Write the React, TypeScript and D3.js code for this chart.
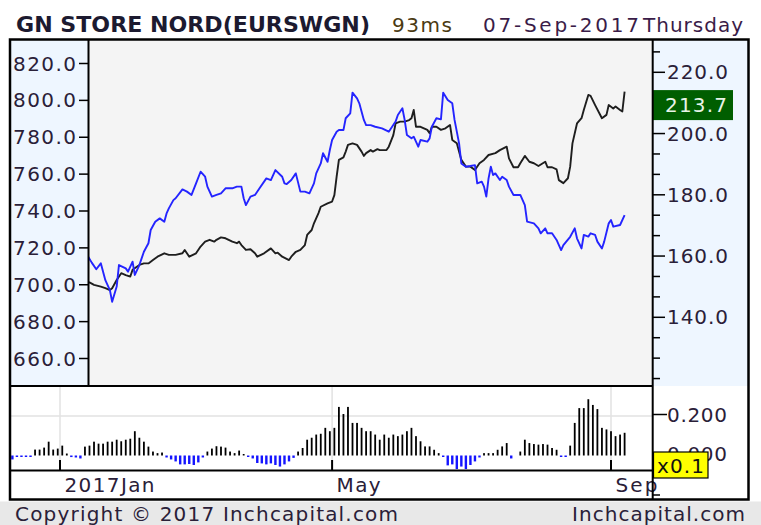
import React from "react";
import * as d3 from "d3";

const blueDates = ["2017-01-13","2017-01-15","2017-01-17","2017-01-19","2017-01-21","2017-01-23","2017-01-24","2017-01-26","2017-01-27","2017-01-30","2017-01-31","2017-02-02","2017-02-03","2017-02-05","2017-02-06","2017-02-07","2017-02-09","2017-02-10","2017-02-12","2017-02-14","2017-02-16","2017-02-17","2017-02-18","2017-02-20","2017-02-21","2017-02-24","2017-02-26","2017-02-28","2017-03-02","2017-03-04","2017-03-06","2017-03-07","2017-03-09","2017-03-11","2017-03-13","2017-03-15","2017-03-18","2017-03-20","2017-03-22","2017-03-23","2017-03-24","2017-03-26","2017-03-28","2017-03-30","2017-04-02","2017-04-04","2017-04-06","2017-04-09","2017-04-10","2017-04-11","2017-04-13","2017-04-15","2017-04-17","2017-04-19","2017-04-21","2017-04-23","2017-04-24","2017-04-26","2017-04-27","2017-04-29","2017-04-30","2017-05-01","2017-05-03","2017-05-04","2017-05-06","2017-05-07","2017-05-09","2017-05-10","2017-05-12","2017-05-13","2017-05-15","2017-05-16","2017-05-18","2017-05-20","2017-05-23","2017-05-26","2017-05-29","2017-05-30","2017-06-01","2017-06-02","2017-06-03","2017-06-05","2017-06-06","2017-06-08","2017-06-09","2017-06-12","2017-06-13","2017-06-14","2017-06-16","2017-06-18","2017-06-19","2017-06-21","2017-06-23","2017-06-24","2017-06-26","2017-06-27","2017-06-29","2017-07-01","2017-07-03","2017-07-04","2017-07-06","2017-07-07","2017-07-08","2017-07-09","2017-07-10","2017-07-11","2017-07-12","2017-07-14","2017-07-15","2017-07-17","2017-07-18","2017-07-20","2017-07-23","2017-07-25","2017-07-26","2017-07-29","2017-07-31","2017-08-01","2017-08-03","2017-08-04","2017-08-06","2017-08-08","2017-08-10","2017-08-11","2017-08-14","2017-08-16","2017-08-17","2017-08-19","2017-08-20","2017-08-22","2017-08-23","2017-08-25","2017-08-26","2017-08-28","2017-08-29","2017-08-31","2017-09-01","2017-09-02","2017-09-05","2017-09-07"];
const blueValues = [716.1,712.0,708.4,711.6,702.5,697.1,690.8,699.0,710.7,708.9,707.1,712.5,705.3,710.7,714.3,717.9,722.5,729.7,734.2,736.0,734.2,738.7,741.4,745.9,746.9,751.7,750.5,748.7,755.0,761.3,758.6,753.2,747.8,748.7,749.6,752.3,752.3,753.2,753.2,746.9,743.2,747.8,748.7,752.3,757.7,756.8,762.2,758.6,755.0,754.6,756.8,760.4,750.5,750.5,749.6,755.0,760.4,765.8,771.3,766.7,773.1,778.5,783.0,783.9,783.9,790.3,793.0,804.2,801.1,798.4,789.4,786.6,786.6,785.7,784.8,783.0,788.5,792.1,795.7,789.4,781.2,779.4,780.3,774.9,778.5,777.6,779.4,785.7,790.3,789.7,804.2,800.2,798.4,789.4,776.7,765.8,764.0,764.4,764.9,755.0,755.9,753.2,747.8,757.7,764.0,759.5,760.4,756.8,758.6,756.8,753.2,748.7,748.7,743.2,734.2,733.3,730.6,727.9,730.6,727.9,727.9,724.3,718.8,721.5,726.0,730.6,725.2,719.7,727.0,726.1,727.9,727.0,723.4,719.7,723.4,733.3,735.1,731.5,732.4,737.8];

const blackDates = ["2017-01-12","2017-01-14","2017-01-16","2017-01-19","2017-01-21","2017-01-23","2017-01-24","2017-01-26","2017-01-28","2017-01-30","2017-02-01","2017-02-02","2017-02-05","2017-02-07","2017-02-09","2017-02-11","2017-02-13","2017-02-16","2017-02-18","2017-02-21","2017-02-24","2017-02-25","2017-02-27","2017-03-02","2017-03-04","2017-03-06","2017-03-08","2017-03-10","2017-03-11","2017-03-13","2017-03-15","2017-03-18","2017-03-20","2017-03-21","2017-03-22","2017-03-24","2017-03-26","2017-03-28","2017-03-29","2017-04-01","2017-04-04","2017-04-06","2017-04-07","2017-04-09","2017-04-12","2017-04-13","2017-04-15","2017-04-17","2017-04-19","2017-04-20","2017-04-22","2017-04-23","2017-04-25","2017-04-26","2017-04-29","2017-05-01","2017-05-02","2017-05-03","2017-05-04","2017-05-06","2017-05-07","2017-05-08","2017-05-10","2017-05-12","2017-05-14","2017-05-15","2017-05-16","2017-05-18","2017-05-19","2017-05-21","2017-05-22","2017-05-25","2017-05-26","2017-05-28","2017-05-29","2017-05-31","2017-06-02","2017-06-04","2017-06-05","2017-06-06","2017-06-07","2017-06-09","2017-06-12","2017-06-13","2017-06-14","2017-06-16","2017-06-18","2017-06-20","2017-06-22","2017-06-23","2017-06-25","2017-06-27","2017-06-29","2017-07-01","2017-07-03","2017-07-05","2017-07-07","2017-07-09","2017-07-12","2017-07-14","2017-07-17","2017-07-18","2017-07-20","2017-07-22","2017-07-23","2017-07-25","2017-07-27","2017-07-29","2017-07-31","2017-08-03","2017-08-04","2017-08-06","2017-08-08","2017-08-09","2017-08-11","2017-08-13","2017-08-14","2017-08-15","2017-08-17","2017-08-19","2017-08-20","2017-08-22","2017-08-23","2017-08-25","2017-08-28","2017-08-30","2017-08-31","2017-09-02","2017-09-03","2017-09-05","2017-09-06","2017-09-07"];
const blackValues = [151.1,151.4,150.6,150.0,149.5,148.9,149.5,152.2,154.4,153.8,153.3,155.5,157.1,157.6,157.6,158.7,159.8,160.9,160.4,160.4,160.9,162.0,159.8,160.9,163.1,164.7,165.3,164.7,165.3,166.1,165.8,164.7,164.2,164.7,163.6,162.0,162.2,160.9,159.8,160.9,162.5,160.9,161.1,159.8,158.7,159.8,161.4,162.0,163.6,166.9,168.5,170.7,174.0,176.1,177.2,177.8,179.9,185.9,191.4,192.2,194.1,196.3,196.8,196.3,194.1,192.7,193.6,194.6,194.1,194.9,194.6,194.6,195.7,199.5,203.3,203.9,203.9,204.4,205.0,207.7,202.2,202.2,201.2,200.1,202.2,202.2,201.2,201.7,202.8,197.9,196.8,191.4,189.2,189.2,188.1,190.3,191.4,193.0,193.6,194.6,195.7,191.9,189.0,189.0,190.3,192.7,190.8,190.3,189.4,190.8,189.0,189.0,188.3,184.8,183.8,185.4,189.2,196.8,203.3,205.0,207.7,212.6,212.3,209.3,205.0,206.1,209.3,208.2,208.8,207.7,207.2,213.7];

const oscStart = "2016-12-11";
const oscValues = [-0.02,-0.005,-0.005,-0.005,-0.004,0.03,0.03,0.04,0.07,0.03,0.035,0.05,0.01,-0.008,-0.01,-0.015,0.045,0.05,0.07,0.06,0.06,0.07,0.07,0.08,0.072,0.08,0.085,0.123,0.09,0.07,0.045,0.02,0.012,0.015,-0.01,-0.02,-0.03,-0.045,-0.045,-0.043,-0.048,-0.035,-0.01,0.02,0.035,0.047,0.045,0.04,0.02,0.012,0.025,0.002,-0.005,-0.015,-0.038,-0.04,-0.045,-0.04,-0.048,-0.056,-0.045,-0.03,-0.012,0.02,0.038,0.08,0.09,0.106,0.11,0.14,0.123,0.14,0.246,0.21,0.246,0.165,0.165,0.14,0.123,0.123,0.106,0.08,0.106,0.09,0.106,0.098,0.106,0.123,0.14,0.098,0.072,0.046,0.046,0.029,0.012,-0.005,-0.05,-0.045,-0.073,-0.056,-0.073,-0.048,-0.03,-0.01,0.012,0.012,0.012,0.029,0.046,0.063,-0.015,0.0,0.02,0.08,0.063,0.058,0.055,0.058,0.055,0.038,0.029,-0.005,-0.005,0.05,0.165,0.24,0.24,0.285,0.256,0.235,0.14,0.132,0.123,0.098,0.106,0.115];

const leftTicks = [820, 800, 780, 760, 740, 720, 700, 680, 660];
const rightTicks = [220, 200, 180, 160, 140];
const oscTicks = [0.2, 0.0];
const monthTicks = [
  { date: "2017-01-01", label: "2017Jan", len: 90 },
  { date: "2017-05-01", label: "May", len: 44 },
  { date: "2017-09-01", label: "Sep", len: 42 },
];
const lastValueLabel = "213.7";
const title = "GN STORE NORD(EURSWGN)";

const FONT = "'DejaVu Sans', Verdana, sans-serif";
const TXT = "#2a2038";

export default function App() {
  const parse = d3.utcParse("%Y-%m-%d");
  const x = d3
    .scaleUtc()
    .domain([parse("2017-01-01")!, parse("2017-09-01")!])
    .range([60, 611]);
  const yL = d3.scaleLinear().domain([660, 820]).range([358.5, 63.5]);
  const yR = d3.scaleLinear().domain([140, 220]).range([317.3, 72.3]);
  const yO = d3.scaleLinear().domain([0, 0.2]).range([455.5, 416]);

  const blue = blueDates.map((d, i) => ({ d: parse(d)!, v: blueValues[i] }));
  const black = blackDates.map((d, i) => ({ d: parse(d)!, v: blackValues[i] }));
  const start = parse(oscStart)!;
  const osc = oscValues.map((v, i) => ({ d: d3.utcDay.offset(start, 2 * i), v }));

  const blueLine = d3.line<{ d: Date; v: number }>().x((p) => x(p.d)).y((p) => yL(p.v));
  const blackLine = d3.line<{ d: Date; v: number }>().x((p) => x(p.d)).y((p) => yR(p.v));

  const minorRight = d3.range(0, 17).map((k) => 120 + (k * 20) / 3);
  const lastBlack = blackValues[blackValues.length - 1];

  return (
    <svg
      width={761}
      height={525}
      style={{ position: "absolute", left: 0, top: 0, background: "#fff" }}
      fontFamily={FONT}
    >
      <defs>
        <clipPath id="mainClip">
          <rect x={89} y={41} width={563} height={344} />
        </clipPath>
        <clipPath id="oscClip">
          <rect x={11} y={387} width={641} height={82} />
        </clipPath>
      </defs>
      <rect x={0} y={0} width={761} height={525} fill="#fff" />
      {/* header */}
      <text x={16} y={32} fontSize={21} fontWeight="bold" fill="#1c1a30" textLength={354} lengthAdjust="spacingAndGlyphs">
        {title}
      </text>
      <text x={392} y={32} fontSize={20} fill="#4a3a12" textLength={60}>93ms</text>
      <text x={483} y={32} fontSize={20} fill="#3a1c48" textLength={156}>07-Sep-2017</text>
      <text x={643} y={32} fontSize={20} fill="#3a1c48" textLength={100}>Thursday</text>

      {/* panels */}
      <rect x={10} y={40} width={79} height={346} fill="#eef6ff" />
      <rect x={89} y={40} width={564} height={346} fill="#f4f4f4" />
      <rect x={653} y={40} width={95} height={346} fill="#eef6ff" />
      <rect x={10} y={386} width={643} height={84} fill="#fff" />

      {/* osc grid */}
      <line x1={10} x2={652} y1={yO(0.2)} y2={yO(0.2)} stroke="#e2e2e2" strokeWidth={1.5} />
      {monthTicks.map((m) => (
        <line key={"g" + m.label} x1={x(parse(m.date)!)} x2={x(parse(m.date)!)} y1={386} y2={470} stroke="#e2e2e2" strokeWidth={1.5} />
      ))}

      {/* osc bars */}
      <g clipPath="url(#oscClip)">
        {osc.map((p, i) => {
          if (p.v === 0) return null;
          const y0 = yO(0);
          const y1 = yO(p.v);
          const h = Math.max(1.5, Math.abs(y1 - y0));
          const pos = p.v > 0;
          const w = pos ? 1.8 : 2.4;
          return (
            <rect
              key={i}
              x={x(p.d) - w / 2}
              y={pos ? y0 - h : y0}
              width={w}
              height={h}
              fill={pos ? "#000" : "#1414ff"}
            />
          );
        })}
      </g>

      {/* main lines */}
      <g clipPath="url(#mainClip)">
        <path d={blackLine(black) || ""} fill="none" stroke="#1e1e1e" strokeWidth={1.9} strokeLinejoin="round" />
        <path d={blueLine(blue) || ""} fill="none" stroke="#2424ff" strokeWidth={1.9} strokeLinejoin="round" />
      </g>

      {/* left axis */}
      {leftTicks.map((t) => (
        <g key={"l" + t}>
          <line x1={79} x2={89} y1={yL(t)} y2={yL(t)} stroke="#000" strokeWidth={1.5} />
          <text x={76} y={yL(t) + 7} fontSize={20} fill={TXT} textAnchor="end" textLength={63}>
            {t.toFixed(1)}
          </text>
        </g>
      ))}

      {/* right axis */}
      {minorRight.map((t, i) => (
        <line key={"m" + i} x1={653} x2={rightTicks.some((r) => Math.abs(r - t) < 0.01) ? 665 : 660} y1={yR(t)} y2={yR(t)} stroke="#000" strokeWidth={1.5} />
      ))}
      {rightTicks.map((t) => (
        <text key={"r" + t} x={667} y={yR(t) + 7} fontSize={20} fill={TXT} textLength={61}>
          {t.toFixed(1)}
        </text>
      ))}
      <rect x={653} y={yR(lastBlack) - 1.5} width={80} height={30} fill="#005e00" />
      <text x={665} y={yR(lastBlack) + 20} fontSize={20} fill="#e8f4e8" textLength={62}>
        {lastValueLabel}
      </text>

      {/* osc axis */}
      {oscTicks.map((t) => (
        <g key={"o" + t}>
          <line x1={653} x2={667} y1={yO(t) - 1.5} y2={yO(t) - 1.5} stroke="#000" strokeWidth={1.5} />
          <text x={667} y={yO(t) + 5.5} fontSize={20} fill={TXT} textLength={60}>
            {t.toFixed(3)}
          </text>
        </g>
      ))}
      <line x1={653} x2={660} y1={yO(-0.2)} y2={yO(-0.2)} stroke="#000" strokeWidth={1.5} />

      {/* separators */}
      <line x1={10} x2={653} y1={386} y2={386} stroke="#000" strokeWidth={2} />
      <line x1={10} x2={653} y1={470.5} y2={470.5} stroke="#000" strokeWidth={2} />
      <line x1={88.5} x2={88.5} y1={40} y2={386} stroke="#000" strokeWidth={2} />

      {/* x ticks & labels */}
      {monthTicks.map((m) => (
        <g key={"x" + m.label}>
          <line x1={x(parse(m.date)!)} x2={x(parse(m.date)!)} y1={460} y2={470} stroke="#000" strokeWidth={2} />
          <text x={x(parse(m.date)!) + 4.5} y={492} fontSize={20} fill={TXT} textLength={m.len}>
            {m.label}
          </text>
        </g>
      ))}

      <line x1={652.7} x2={652.7} y1={40} y2={500} stroke="#000" strokeWidth={2} />

      {/* x0.1 box */}
      <rect x={653.5} y={452} width={54.5} height={26} fill="#ffff00" stroke="#000" strokeWidth={1.2} />
      <text x={657} y={473} fontSize={20} fill="#111" textLength={47}>x0.1</text>

      {/* frame */}
      <rect x={10} y={39.5} width={738.5} height={460} fill="none" stroke="#000" strokeWidth={2.5} />

      {/* footer */}
      <rect x={0} y={501.5} width={761} height={23.5} fill="#e8e8e8" />
      <text x={15} y={521} fontSize={20} fill={TXT} textLength={383}>Copyright © 2017 Inchcapital.com</text>
      <text x={572} y={521} fontSize={20} fill={TXT} textLength={173}>Inchcapital.com</text>
    </svg>
  );
}
